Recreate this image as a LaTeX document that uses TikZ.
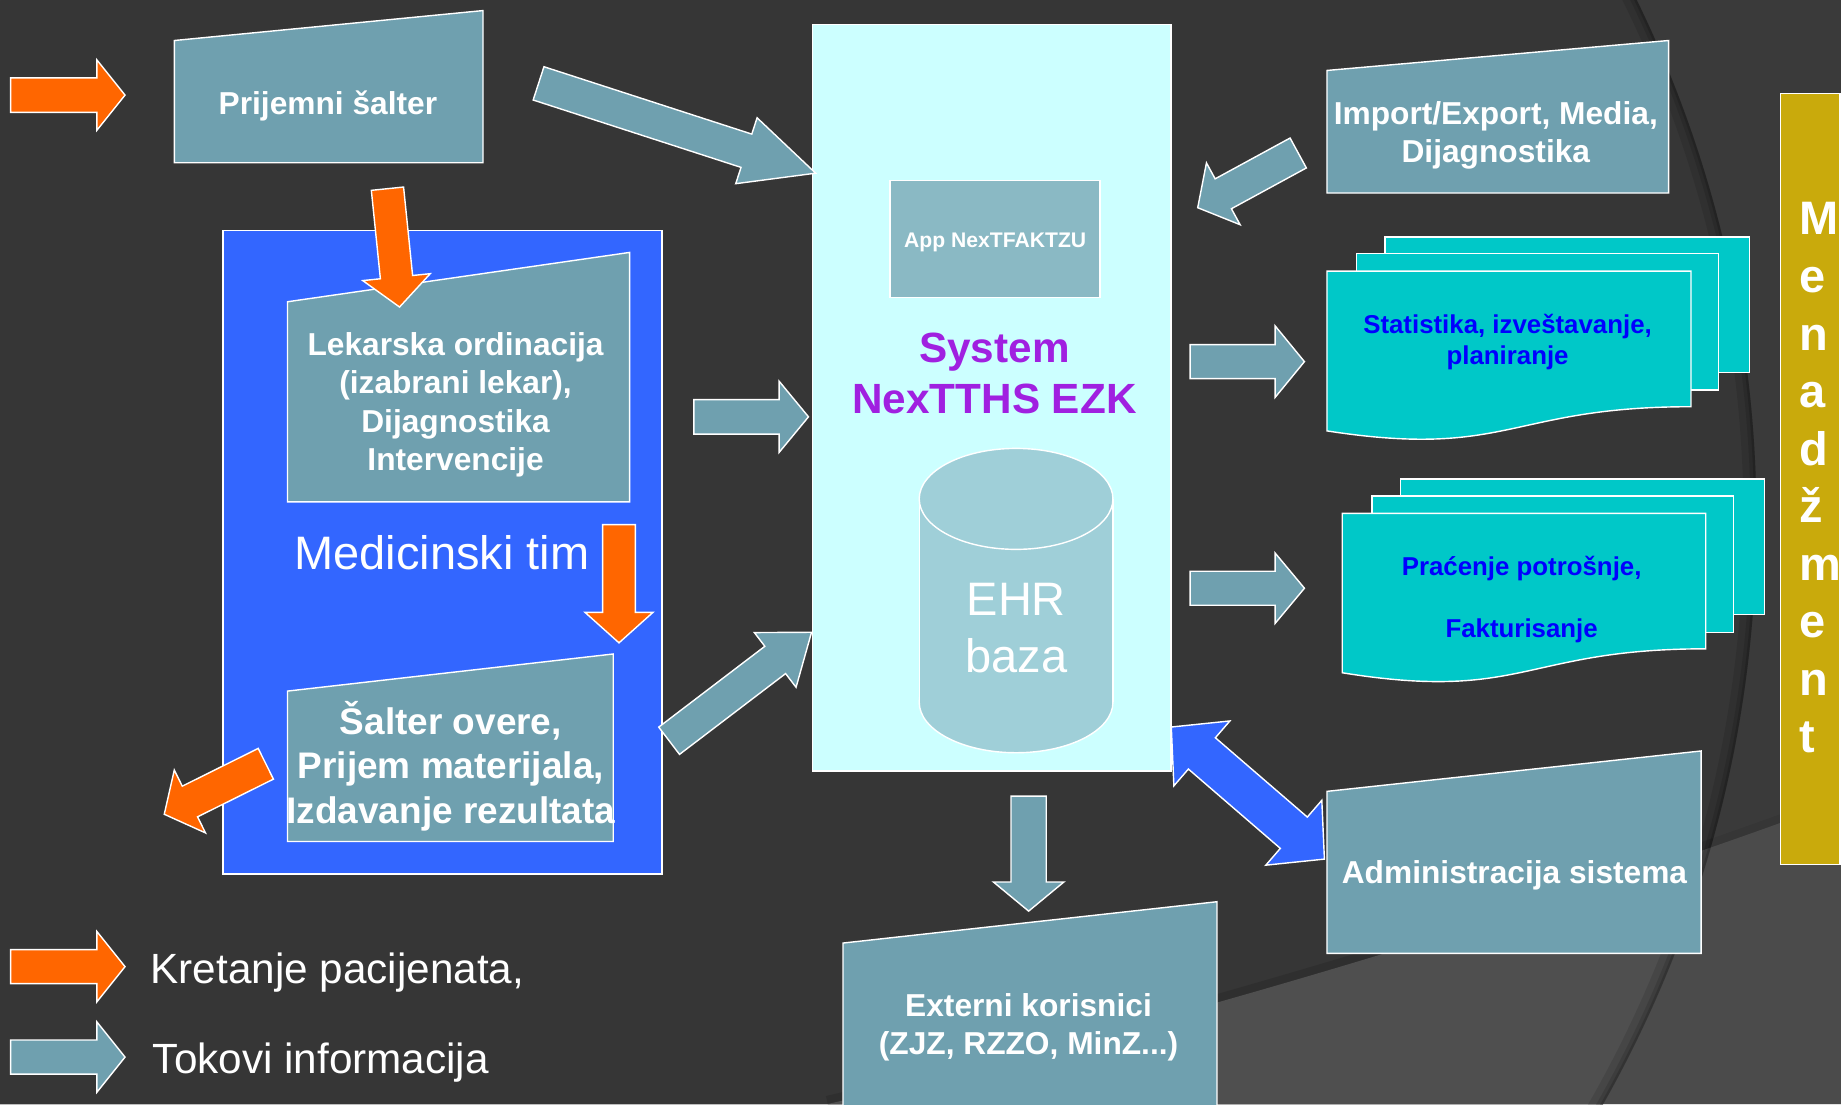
\documentclass[tikz,border=0pt]{standalone}
\usepackage{fontspec}
\setmainfont{Liberation Sans}
\usetikzlibrary{calc}
\definecolor{bgc}{HTML}{363636}
\definecolor{bgover}{HTML}{444444}
\definecolor{bglow}{HTML}{4F4F4F}
\definecolor{tealc}{HTML}{6FA0AF}
\definecolor{orangec}{HTML}{FF6600}
\definecolor{bluec}{HTML}{3366FF}
\definecolor{cyanc}{HTML}{CCFFFF}
\definecolor{appc}{HTML}{8AB9C4}
\definecolor{cylc}{HTML}{9FCFD8}
\definecolor{turqc}{HTML}{00C8C8}
\definecolor{goldc}{HTML}{C9AA0C}
\definecolor{purplec}{HTML}{A020E0}
\definecolor{textblue}{HTML}{0000FF}
% single block arrow: style, tail, tip, shaft half width, head half width, head length
\newcommand\mkarrow[6]{%
  \coordinate (bahead) at ($(#3)!#6!(#2)$);
  \filldraw[#1] ($(#2)!#4!90:(#3)$) -- ($(bahead)!#4!90:(#3)$) -- ($(bahead)!#5!90:(#3)$) -- (#3)
    -- ($(bahead)!#5!-90:(#3)$) -- ($(bahead)!#4!-90:(#3)$) -- ($(#2)!#4!-90:(#3)$) -- cycle;}
% double block arrow: style, tip A, tip B, shaft half width, head half width, head length
\newcommand\mkdarrow[6]{%
  \coordinate (baheadA) at ($(#2)!#6!(#3)$);
  \coordinate (baheadB) at ($(#3)!#6!(#2)$);
  \filldraw[#1] (#2) -- ($(baheadA)!#5!90:(#3)$) -- ($(baheadA)!#4!90:(#3)$) -- ($(baheadB)!#4!90:(#3)$)
    -- ($(baheadB)!#5!90:(#3)$) -- (#3) -- ($(baheadB)!#5!-90:(#3)$) -- ($(baheadB)!#4!-90:(#3)$)
    -- ($(baheadA)!#4!-90:(#3)$) -- ($(baheadA)!#5!-90:(#3)$) -- cycle;}
\begin{document}
\begin{tikzpicture}[x=1pt,y=-1pt,
  outl/.style={draw=white, line width=1.2pt, line join=miter},
  tealshape/.style={fill=tealc, outl},
  patarrow/.style={fill=orangec, outl},
  infoarrow/.style={fill=tealc, outl},
  admarrow/.style={fill=bluec, outl},
  docshape/.style={fill=turqc, outl},
  lbl/.style={text=white, font=\bfseries\fontsize{27}{32.5}\selectfont, align=center, inner sep=0pt},
  doclbl/.style={text=textblue, font=\bfseries\fontsize{22}{26.5}\selectfont, align=center, inner sep=0pt},
  biglbl/.style={text=white, font=\fontsize{40}{48.8}\selectfont, align=center, inner sep=0pt},
  leglbl/.style={text=white, font=\fontsize{36}{43}\selectfont, anchor=base west, inner sep=0pt}]
\useasboundingbox (0,0) rectangle (1568,940.3);
% ---------- background ----------
\begin{scope}
\clip (0,0) rectangle (1568,940.3);
\fill[bgc] (0,0) rectangle (1568,940.3);
\draw[black, opacity=0.12, line width=14pt] (705,940.3) .. controls (900,895) and (1250,800) .. (1568,682);
\fill[bglow] (705,940.3) .. controls (900,895) and (1250,800) .. (1568,682) -- (1568,940.3) -- cycle;
\fill[bgover, opacity=0.35, even odd rule] (0,0) rectangle (1568,940.3) (485,443) circle (1011);
\begin{scope}
\clip (485,443) circle (1011);
\draw[black, opacity=0.10, line width=22pt] (485,443) circle (1011);
\draw[black, opacity=0.12, line width=10pt] (485,443) circle (1011);
\draw[black, opacity=0.15, line width=4pt] (485,443) circle (1011);
\end{scope}
\end{scope}
% ---------- central system ----------
\filldraw[fill=cyanc, outl] (692,21) rectangle (997.3,656.7);
\filldraw[fill=appc, outl] (758,153.8) rectangle (937,253.4);
\node[lbl, font=\bfseries\fontsize{18}{21.6}\selectfont, anchor=base] (app) at (847.6,210.7) {App NexTFAKTZU};
\node[text=purplec, font=\bfseries\fontsize{36}{43.4}\selectfont, align=center, inner sep=0pt] (system) at (847,318.3) {System\\NexTTHS EZK};
% cylinder
\filldraw[fill=cylc, outl] (865.4,598.1) ellipse [x radius=82.5, y radius=43];
\fill[cylc] (782.9,424.9) rectangle (947.9,598.1);
\draw[outl] (782.9,424.9) -- (782.9,598.1) (947.9,424.9) -- (947.9,598.1);
\filldraw[fill=cylc, outl] (865.4,424.9) ellipse [x radius=82.5, y radius=43];
\node[biglbl] (ehr) at (865.6,534.8) {EHR\\baza};
% ---------- medical team ----------
\filldraw[fill=bluec, outl] (190,196.4) rectangle (563.7,744.5);
\filldraw[tealshape] (244.9,427.4) -- (244.9,257) -- (536.2,215) -- (536.2,427.4) -- cycle;
\node[lbl] (lekarska) at (388,344.8) {Lekarska ordinacija\\(izabrani lekar),\\Dijagnostika\\Intervencije};
\node[text=white, font=\fontsize{40}{48}\selectfont, anchor=base, inner sep=0pt] (medtim) at (376.3,485.2) {Medicinski tim};
\filldraw[tealshape] (244.9,716.7) -- (244.9,588.6) -- (522.3,557) -- (522.3,716.7) -- cycle;
\node[lbl, font=\bfseries\fontsize{31.5}{37.8}\selectfont] (salter) at (384,652.4) {Šalter overe,\\Prijem materijala,\\Izdavanje rezultata};
% ---------- reception ----------
\filldraw[tealshape] (148.5,138.6) -- (148.5,34.5) -- (411.4,9) -- (411.4,138.6) -- cycle;
\node[lbl, anchor=base] (prijemni) at (279.3,97.5) {Prijemni šalter};
% ---------- import/export ----------
\filldraw[tealshape] (1130.2,164.4) -- (1130.2,60) -- (1421.2,34.5) -- (1421.2,164.4) -- cycle;
\node[lbl] (import) at (1274,115) {Import/Export, Media,\\Dijagnostika};
% ---------- document stacks ----------
\filldraw[docshape] (1179.6,201.8) rectangle (1490.2,317.3);
\filldraw[docshape] (1155.2,215.9) rectangle (1463.8,332.2);
\filldraw[docshape] (1130.2,230.9) -- (1440.2,230.9) -- (1440.2,346.4) .. controls (1285.2,346.4) and (1285.2,391) .. (1130.2,367) -- cycle;
\node[doclbl] (stat) at (1284,291) {Statistika, izveštavanje,\\planiranje};
\filldraw[docshape] (1192.7,408) rectangle (1502.8,523.5);
\filldraw[docshape] (1168.6,422.3) rectangle (1476.3,538.5);
\filldraw[docshape] (1143.2,437.3) -- (1452.8,437.3) -- (1452.8,552.6) .. controls (1298,552.6) and (1298,598) .. (1143.2,573) -- cycle;
\node[doclbl, font=\bfseries\fontsize{22}{26.6}\selectfont] (pracenje) at (1296,510.4) {Praćenje potrošnje,\\[26.6pt]Fakturisanje};
% ---------- management bar ----------
\filldraw[fill=goldc, outl] (1516.6,79.5) rectangle (1567.3,736.2);
\node[text=white, font=\bfseries\fontsize{40}{49}\selectfont, align=left, anchor=north west, inner sep=0pt] (menadzment) at (1532.5,172.4) {M\\e\\n\\a\\d\\ž\\m\\e\\n\\t};
% ---------- external users ----------
\filldraw[tealshape] (718,950) -- (718,803.2) -- (1036.5,768) -- (1036.5,950) -- cycle;
\node[lbl] (externi) at (876,875.3) {Externi korisnici\\(ZJZ, RZZO, MinZ...)};
% ---------- arrows ----------
\coordinate (pa1t) at (9,81); \coordinate (pa1h) at (106.5,81);
\mkarrow{patarrow}{pa1t}{pa1h}{14.7pt}{30pt}{24pt}
\coordinate (ia1t) at (458.7,71); \coordinate (ia1h) at (694.7,147.5);
\mkarrow{infoarrow}{ia1t}{ia1h}{14.9pt}{29.5pt}{62pt}
\coordinate (pa2t) at (330,160.7); \coordinate (pa2h) at (340.3,261.5);
\mkarrow{patarrow}{pa2t}{pa2h}{13.8pt}{28.9pt}{25.6pt}
\coordinate (pa3t) at (527.2,446.8); \coordinate (pa3h) at (527.2,547.5);
\mkarrow{patarrow}{pa3t}{pa3h}{14pt}{29pt}{26pt}
\coordinate (pa4t) at (226.4,650.5); \coordinate (pa4h) at (139.9,693.5);
\mkarrow{patarrow}{pa4t}{pa4h}{14.6pt}{29.9pt}{24.4pt}
\coordinate (ia2t) at (591,355); \coordinate (ia2h) at (688.6,355);
\mkarrow{infoarrow}{ia2t}{ia2h}{14.7pt}{30.3pt}{25pt}
\coordinate (ia3t) at (569.9,630.9); \coordinate (ia3h) at (691.2,538.5);
\mkarrow{infoarrow}{ia3t}{ia3h}{14.6pt}{29.3pt}{38.9pt}
\coordinate (ia4t) at (1105.7,130.3); \coordinate (ia4h) at (1020.1,176.9);
\mkarrow{infoarrow}{ia4t}{ia4h}{14.5pt}{30pt}{24.8pt}
\coordinate (ia5t) at (1013.6,308); \coordinate (ia5h) at (1111,308);
\mkarrow{infoarrow}{ia5t}{ia5h}{14.5pt}{30.5pt}{25pt}
\coordinate (ia6t) at (1013.6,501); \coordinate (ia6h) at (1111,501);
\mkarrow{infoarrow}{ia6t}{ia6h}{14.5pt}{30pt}{25pt}
\coordinate (ia7t) at (876.1,678); \coordinate (ia7h) at (876.1,776);
\mkarrow{infoarrow}{ia7t}{ia7h}{15pt}{30pt}{24.8pt}
\coordinate (da1) at (997.6,619.2); \coordinate (da2) at (1128,731.7);
\mkdarrow{admarrow}{da1}{da2}{17.6pt}{36.5pt}{34.4pt}
% ---------- administration ----------
\filldraw[tealshape] (1130.2,812) -- (1130.2,674) -- (1448.8,639.6) -- (1448.8,812) -- cycle;
\node[lbl, anchor=base] (admin) at (1289.9,752.4) {Administracija sistema};
% ---------- legend ----------
\coordinate (lg1t) at (9,823.3); \coordinate (lg1h) at (106.5,823.3);
\mkarrow{patarrow}{lg1t}{lg1h}{14.5pt}{30pt}{24pt}
\coordinate (lg2t) at (9,900.3); \coordinate (lg2h) at (106.5,900.3);
\mkarrow{infoarrow}{lg2t}{lg2h}{14.5pt}{30pt}{24pt}
\node[leglbl] (leg1) at (128,837.5) {Kretanje pacijenata,};
\node[leglbl] (leg2) at (130,914.6) {Tokovi informacija};
\end{tikzpicture}
\end{document}
